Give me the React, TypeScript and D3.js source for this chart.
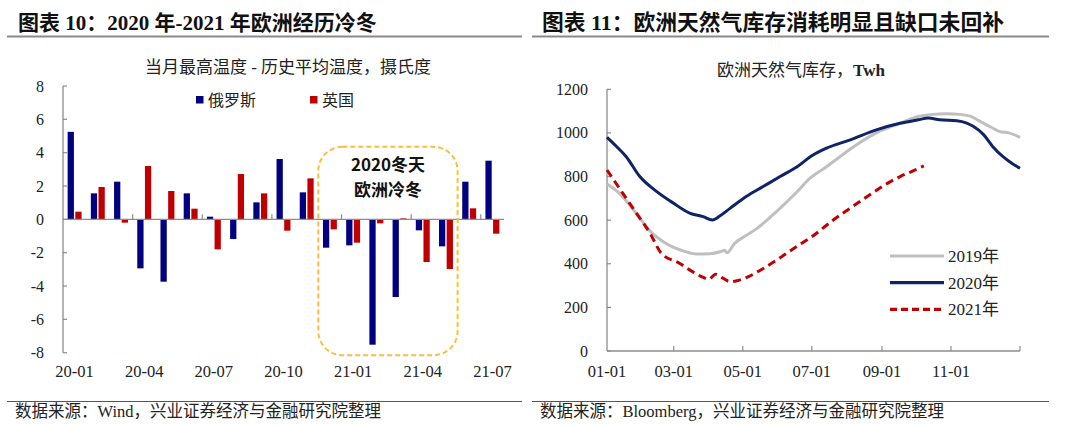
import * as d3 from "d3";

// left panel: monthly max temperature minus historical average, °C
const MONTHS = [
  "20-01", "20-02", "20-03", "20-04", "20-05", "20-06", "20-07", "20-08", "20-09", "20-10",
  "20-11", "20-12", "21-01", "21-02", "21-03", "21-04", "21-05", "21-06", "21-07",
];
const RUSSIA = [5.25, 1.56, 2.26, -2.94, -3.74, 1.56, 0.16, -1.18, 1.02, 3.62, 1.62, -1.7, -1.56, -7.52, -4.66, -0.66, -1.62, 2.26, 3.52];
const UK = [0.46, 1.94, -0.2, 3.2, 1.7, 0.64, -1.8, 2.72, 1.56, -0.68, 2.46, -0.6, -1.4, -0.24, 0.06, -2.56, -2.98, 0.66, -0.86];
const LEFT_TICKS = [-8, -6, -4, -2, 0, 2, 4, 6, 8];
const COLD_FROM = "20-12";
const COLD_TO = "21-05";

// right panel: EU gas storage, TWh, by day of year
const DAY_2019 = [0, 11, 26, 38, 50, 65, 79, 91, 100, 104, 106, 113, 120, 132, 150, 168, 179, 194, 218, 238, 259, 275, 288, 300, 312, 322, 330, 340, 347, 355, 365];
const GAS_2019 = [766, 723, 630, 550, 500, 463, 445, 446, 455, 462, 450, 495, 520, 560, 640, 730, 790, 845, 937, 1000, 1044, 1075, 1085, 1088, 1085, 1075, 1052, 1025, 1006, 1000, 980];
const DAY_2020 = [0, 8, 17, 29, 44, 59, 73, 85, 93, 100, 109, 123, 138, 153, 168, 181, 194, 215, 238, 259, 275, 284, 294, 309, 318, 324, 333, 341, 350, 358, 365];
const GAS_2020 = [980, 940, 891, 800, 731, 677, 632, 616, 601, 620, 655, 708, 754, 800, 845, 895, 930, 968, 1014, 1044, 1060, 1068, 1060, 1056, 1045, 1029, 991, 937, 891, 860, 838];
const DAY_2021 = [0, 14, 26, 38, 48, 64, 73, 84, 90, 96, 102, 109, 117, 125, 137, 150, 165, 181, 200, 215, 230, 245, 259, 270, 280];
const GAS_2021 = [830, 723, 632, 540, 448, 402, 372, 340, 329, 352, 335, 318, 325, 341, 375, 417, 470, 524, 601, 655, 708, 760, 800, 825, 849];
const RIGHT_TICKS = [0, 200, 400, 600, 800, 1000, 1200];
const DATE_TICKS = [0, 59, 120, 181, 243, 304, 365];
const DATE_LABELS = ["01-01", "03-01", "05-01", "07-01", "09-01", "11-01", ""];

const SERIF = '"Liberation Serif", "Times New Roman", "Noto Sans CJK SC", serif';
const SANS = '"Noto Sans CJK SC", "Noto Sans", sans-serif';
const AXIS = "#8c8c8c";
const NAVY = "#000080";
const RED = "#C00000";

function LeftChart() {
  const x = d3.scaleBand<string>().domain(MONTHS).range([63, 504]).padding(0);
  const y = d3.scaleLinear().domain([-8, 8]).range([352.7, 86]);
  const step = x.step();
  const bw = step * 0.27;
  const gap = step * 0.06;
  const y0 = y(0);

  const bar = (v: number) => ({ y: Math.min(y(v), y0), h: Math.abs(y(v) - y0) });

  const boxX0 = x(COLD_FROM)!;
  const boxX1 = x(COLD_TO)! + step;
  const boxY0 = y(4.35);
  const boxY1 = y(-8.15);

  return (
    <g>
      <text x={288} y={73} textAnchor="middle" fontFamily={SERIF} fontSize={17} fill="#222">
        当月最高温度 - 历史平均温度，摄氏度
      </text>

      {/* legend */}
      <rect x={196} y={96} width={7.5} height={7.5} fill={NAVY} />
      <text x={208} y={106} fontFamily={SERIF} fontSize={16} fill="#222">俄罗斯</text>
      <rect x={310} y={96} width={7.5} height={7.5} fill={RED} />
      <text x={322} y={106} fontFamily={SERIF} fontSize={16} fill="#222">英国</text>

      {/* y axis */}
      <line x1={63} x2={63} y1={y(8)} y2={y(-8)} stroke={AXIS} strokeWidth={1.3} />
      {LEFT_TICKS.map((t) => (
        <g key={t}>
          <line x1={63} x2={67} y1={y(t)} y2={y(t)} stroke={AXIS} strokeWidth={1.2} />
          <text x={44} y={y(t) + 5.5} textAnchor="end" fontFamily={SERIF} fontSize={16} fill="#222">
            {t}
          </text>
        </g>
      ))}

      {/* bars */}
      {MONTHS.map((m, i) => {
        const cx = x(m)! + step / 2;
        const b1 = bar(RUSSIA[i]);
        const b2 = bar(UK[i]);
        return (
          <g key={m}>
            <rect x={cx - gap / 2 - bw} y={b1.y} width={bw} height={b1.h} fill={NAVY} />
            <rect x={cx + gap / 2} y={b2.y} width={bw} height={b2.h} fill={RED} />
          </g>
        );
      })}

      {/* x axis at zero */}
      <line x1={63} x2={504} y1={y0} y2={y0} stroke={AXIS} strokeWidth={1.3} />
      {MONTHS.map((m, i) =>
        i > 0 && i % 3 === 0 ? (
          <line key={m} x1={x(m)!} x2={x(m)!} y1={y0} y2={y0 - 5} stroke={AXIS} strokeWidth={1.2} />
        ) : null
      )}
      {MONTHS.map((m, i) =>
        i % 3 === 0 ? (
          <text key={m} x={x(m)! + step / 2} y={377} textAnchor="middle" fontFamily={SERIF} fontSize={16.5} fill="#222">
            {m}
          </text>
        ) : null
      )}

      {/* cold winter highlight */}
      <rect
        x={boxX0}
        y={boxY0}
        width={boxX1 - boxX0}
        height={boxY1 - boxY0}
        rx={24}
        fill="none"
        stroke="#F8C03A"
        strokeWidth={2}
        strokeDasharray="5,3"
      />
      <text x={(boxX0 + boxX1) / 2} y={171} textAnchor="middle" fontFamily={SANS} fontWeight="bold" fontSize={17} fill="#111">
        2020冬天
      </text>
      <text x={(boxX0 + boxX1) / 2} y={196} textAnchor="middle" fontFamily={SANS} fontWeight="bold" fontSize={17} fill="#111">
        欧洲冷冬
      </text>
    </g>
  );
}

function RightChart() {
  const x = d3.scaleLinear().domain([0, 365]).range([607, 1020]);
  const y = d3.scaleLinear().domain([0, 1200]).range([351, 89.3]);
  const line = d3
    .line<[number, number]>()
    .x((d) => x(d[0]))
    .y((d) => y(d[1]))
    .curve(d3.curveMonotoneX);
  const pts = (days: number[], vals: number[]) => days.map((d, i) => [d, vals[i]] as [number, number]);

  const legend = [
    { label: "2019年", color: "#BFBFBF", dash: undefined, y: 256 },
    { label: "2020年", color: "#0F2466", dash: undefined, y: 282.7 },
    { label: "2021年", color: RED, dash: "7,4", y: 309.3 },
  ];

  return (
    <g>
      <text x={801} y={76} textAnchor="middle" fontFamily={SERIF} fontSize={17} fill="#222">
        欧洲天然气库存，<tspan fontWeight="bold">Twh</tspan>
      </text>

      <line x1={607} x2={607} y1={y(1200)} y2={y(0)} stroke={AXIS} strokeWidth={1.3} />
      {RIGHT_TICKS.map((t) => (
        <g key={t}>
          <line x1={607} x2={611} y1={y(t)} y2={y(t)} stroke={AXIS} strokeWidth={1.2} />
          <text x={588} y={y(t) + 5.5} textAnchor="end" fontFamily={SERIF} fontSize={16} fill="#222">
            {t}
          </text>
        </g>
      ))}
      <line x1={607} x2={1020} y1={y(0)} y2={y(0)} stroke={AXIS} strokeWidth={1.3} />
      {DATE_TICKS.map((d, i) => (
        <g key={d}>
          {i > 0 && <line x1={x(d)} x2={x(d)} y1={y(0)} y2={y(0) - 5} stroke={AXIS} strokeWidth={1.2} />}
          <text x={x(d)} y={377} textAnchor="middle" fontFamily={SERIF} fontSize={16.5} fill="#222">
            {DATE_LABELS[i]}
          </text>
        </g>
      ))}

      <path d={line(pts(DAY_2019, GAS_2019))!} fill="none" stroke="#BFBFBF" strokeWidth={3} />
      <path d={line(pts(DAY_2020, GAS_2020))!} fill="none" stroke="#0F2466" strokeWidth={3} />
      <path d={line(pts(DAY_2021, GAS_2021))!} fill="none" stroke={RED} strokeWidth={3} strokeDasharray="8,5" />

      {legend.map((l) => (
        <g key={l.label}>
          <line x1={890} x2={944} y1={l.y} y2={l.y} stroke={l.color} strokeWidth={3.2} strokeDasharray={l.dash} />
          <text x={948} y={l.y + 6} fontFamily={SERIF} fontSize={17} fill="#222">
            {l.label}
          </text>
        </g>
      ))}
    </g>
  );
}

export default function App() {
  return (
    <svg
      width={1080}
      height={425}
      viewBox="0 0 1080 425"
      style={{ position: "absolute", left: 0, top: 0, background: "#fff" }}
    >
      {/* headers */}
      <text x={18} y={30} fontFamily={SERIF} fontSize={21} fontWeight="bold" fill="#111">
        图表 10：2020 年-2021 年欧洲经历冷冬
      </text>
      <line x1={7} x2={522} y1={36.5} y2={36.5} stroke="#8a8a8a" strokeWidth={2} />
      <text x={542} y={30} fontFamily={SERIF} fontSize={21.8} fontWeight="bold" fill="#111">
        图表 11：欧洲天然气库存消耗明显且缺口未回补
      </text>
      <line x1={532} x2={1049} y1={36.5} y2={36.5} stroke="#8a8a8a" strokeWidth={2} />

      <LeftChart />
      <RightChart />

      {/* footers */}
      <line x1={7} x2={522} y1={401.5} y2={401.5} stroke="#555" strokeWidth={1} />
      <text x={15} y={417} fontFamily={SERIF} fontSize={16.5} fill="#222">
        数据来源：Wind，兴业证券经济与金融研究院整理
      </text>
      <line x1={532} x2={1049} y1={401.5} y2={401.5} stroke="#555" strokeWidth={1} />
      <text x={540} y={417} fontFamily={SERIF} fontSize={16.5} fill="#222">
        数据来源：Bloomberg，兴业证券经济与金融研究院整理
      </text>
    </svg>
  );
}
